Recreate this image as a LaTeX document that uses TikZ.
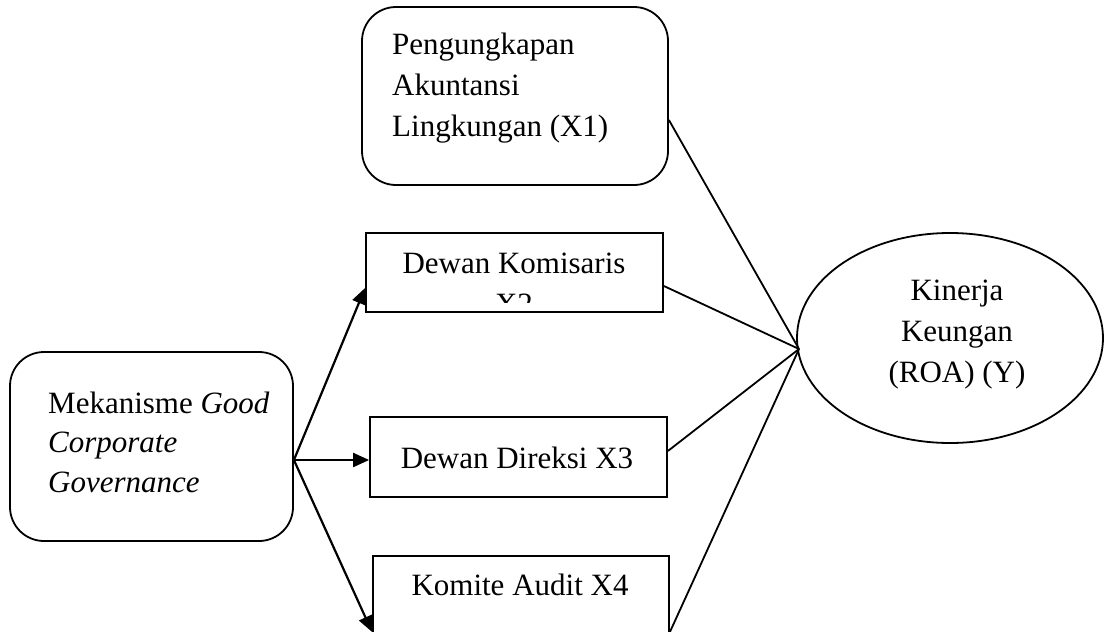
\documentclass[tikz,border=0pt]{standalone}
\usepackage{fontspec}
\setmainfont{Liberation Serif}
\usetikzlibrary{arrows.meta,shapes.geometric}
\begin{document}
\begin{tikzpicture}[x=1pt,y=-1pt,
  box/.style={draw=black,line width=1.8pt,rectangle,inner sep=0pt},
  rbox/.style={box,rounded corners=34pt},
  txt/.style={inner sep=0pt,font=\fontsize{31}{41}\selectfont},
  conn/.style={draw=black,line width=1.8pt},
  arr/.style={draw=black,line width=2.2pt,-{Triangle[length=16pt,width=14pt]}}]
\useasboundingbox (0,0) rectangle (1104,632);
\clip (0,0) rectangle (1104,632);
% boxes
\node[rbox,minimum width=306pt,minimum height=178pt] (x1) at (515,96) {};
\node[box,minimum width=297pt,minimum height=79pt] (x2) at (514.5,272.5) {};
\node[box,minimum width=297pt,minimum height=80pt] (x3) at (518.5,457) {};
\node[box,minimum width=296pt,minimum height=80pt] (x4) at (521,596) {};
\node[rbox,minimum width=283pt,minimum height=189pt] (gcg) at (151.5,446.5) {};
\node[draw=black,line width=1.8pt,ellipse,minimum width=306pt,minimum height=210pt,inner sep=0pt] (y) at (950,338) {};
% texts
\node[txt,anchor=base west] (x1a) at (392,54) {Pengungkapan};
\node[txt,anchor=base west] (x1b) at (392,95) {Akuntansi};
\node[txt,anchor=base west] (x1c) at (392,136) {Lingkungan (X1)};
\node[txt,anchor=base] (x2a) at (514,273) {Dewan Komisaris};
\begin{scope}
\clip (366,233) rectangle (663,302);
\node[txt,anchor=base] (x2b) at (514,314) {X2};
\end{scope}
\node[txt,anchor=base] (x3a) at (517,468) {Dewan Direksi X3};
\node[txt,anchor=base] (x4a) at (520,595) {Komite Audit X4};
\node[txt,anchor=base west] (ga) at (48,413) {Mekanisme \textit{Good}};
\node[txt,anchor=base west] (gb) at (48,452) {\textit{Corporate}};
\node[txt,anchor=base west] (gc) at (48,492) {\textit{Governance}};
\node[txt,anchor=base] (ya) at (957,300) {Kinerja};
\node[txt,anchor=base] (yb) at (957,341) {Keungan};
\node[txt,anchor=base] (yc) at (957,382) {(ROA) (Y)};
% connectors
\coordinate (conv) at (799,349);
\draw[conn] ([yshift=-24pt]x1.east) -- (conv);
\draw[conn] ([yshift=-13.5pt]x2.east) -- (conv);
\draw[conn] ([yshift=6pt]x3.east) -- (conv);
\draw[conn] ([yshift=-36pt]x4.east) -- (conv);
% arrows
\coordinate (src) at ([yshift=-13.5pt]gcg.east);
\draw[arr] (src) -- ([yshift=-15.5pt]x2.west);
\draw[arr] (src) -- ([yshift=-3pt]x3.west);
\draw[arr] (src) -- ([yshift=-36pt]x4.west);
\end{tikzpicture}
\end{document}
